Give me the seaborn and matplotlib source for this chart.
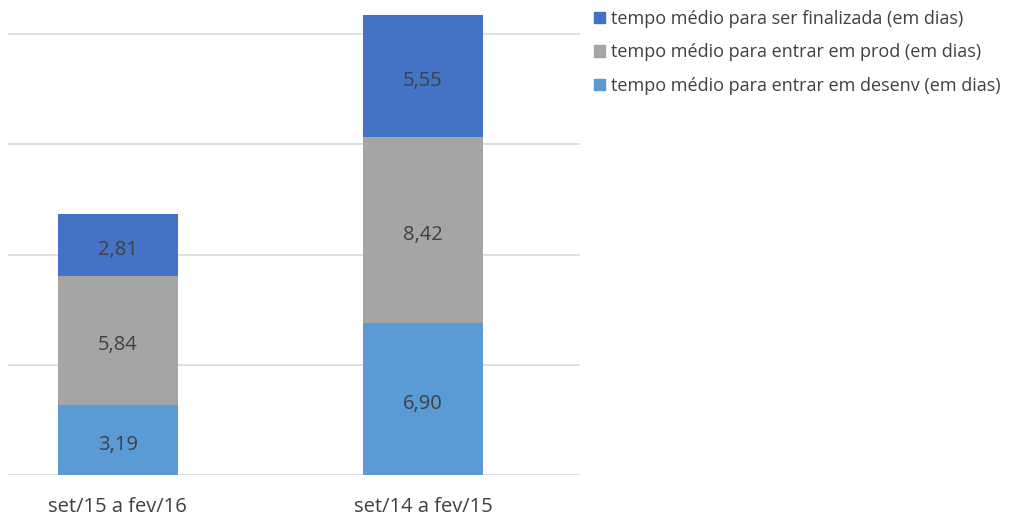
import numpy as np
import pandas as pd
import matplotlib
matplotlib.use("Agg")
import matplotlib.pyplot as plt
import seaborn as sns
from matplotlib.patches import Patch

periodos = ["set/15 a fev/16", "set/14 a fev/15"]
desenv = [3.19, 6.90]
prod = [5.84, 8.42]
finalizada = [2.81, 5.55]

series = [
    ("tempo médio para entrar em desenv (em dias)", desenv, "#5B9BD5"),
    ("tempo médio para entrar em prod (em dias)", prod, "#A5A5A5"),
    ("tempo médio para ser finalizada (em dias)", finalizada, "#4472C4"),
]

sns.set_style("white")
plt.rcParams["font.family"] = ["Open Sans", "DejaVu Sans"]

fig = plt.figure(figsize=(10.11, 5.18), dpi=100)
ax = fig.add_axes([8 / 1011, 43 / 518, 572 / 1011, (475 - 12) / 518])

base = np.zeros(len(periodos))
for nome, vals, cor in series:
    df = pd.DataFrame({"periodo": periodos, "valor": vals})
    sns.barplot(data=df, x="periodo", y="valor", color=cor, bottom=base,
                width=0.393, ax=ax, saturation=1, linewidth=0)
    for i, v in enumerate(vals):
        # rótulo levemente abaixo do centro, como no original
        ax.text(i, base[i] + v / 2 - 0.22, f"{v:.2f}".replace(".", ","),
                ha="center", va="center", fontsize=14.5, color="#404040")
    base = base + np.array(vals)

ax.set_xlim(-0.36, 1.515)
ax.set_ylim(0, 21)
ax.set_yticks([0, 5, 10, 15, 20])
ax.set_yticklabels([])
ax.tick_params(axis="y", length=0)
ax.tick_params(axis="x", length=0, labelsize=14.5, labelcolor="#404040", pad=16)
ax.yaxis.grid(True, color="#D9D9D9", linewidth=1.2)
ax.set_axisbelow(True)
for s in ax.spines.values():
    s.set_visible(False)
ax.set_xlabel("")
ax.set_ylabel("")

handles = [Patch(color=c, label=n) for n, _, c in reversed(series)]
fig.legend(handles=handles, loc="upper left", bbox_to_anchor=(584 / 1011, 1.0),
           frameon=False, fontsize=13, labelcolor="#404040",
           handlelength=0.6, handleheight=0.6, handletextpad=0.35,
           labelspacing=0.85, borderaxespad=0.15)

fig.savefig("out.png", dpi=100)
